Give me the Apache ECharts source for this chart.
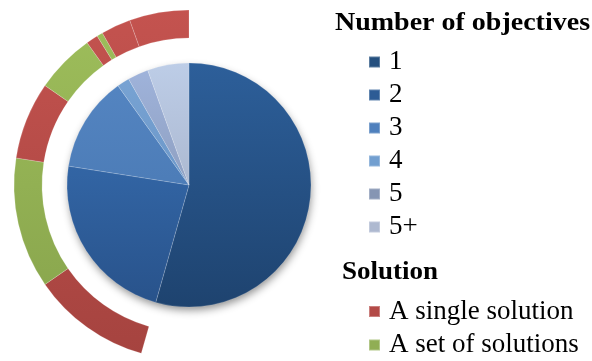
<!DOCTYPE html>
<html>
<head>
<meta charset="utf-8">
<script src="https://cdn.jsdelivr.net/npm/echarts@6/dist/echarts.min.js"></script>
<style>
  html, body { margin: 0; padding: 0; background: #fff; }
  #chart { width: 592px; height: 361px; }
</style>
</head>
<body>
<div id="chart"></div>
<script>
// Papers by number of objectives (inner pie)
const objectiveNames = ['1', '2', '3', '4', '5', '5+'];
const objectiveCounts = [99, 42, 23, 3, 5, 10];

// Solution type per group of objectives, for groups 2..5+ (outer ring)
const solutionNames = ['A single solution', 'A set of solutions'];
const ringGroups = ['2', '2', '3', '3', '4', '4', '5', '5+'];
const ringTypes = [0, 1, 0, 1, 0, 1, 0, 0];
const ringCounts = [20, 22, 13, 10, 2, 1, 5, 10];

const FONT = '"Liberation Serif", "Times New Roman", serif';
const CX = 189, CY = 185, R_PIE = 122, R_IN = 147, R_OUT = 175;

function vgrad(y0, y1, c0, c1) {
  return new echarts.graphic.LinearGradient(0, y0, 0, y1, [
    { offset: 0, color: c0 }, { offset: 1, color: c1 }
  ], true);
}

const sliceColors = [
  ['#2D5F9A', '#1E436F'],
  ['#3A73B8', '#28528A'],
  ['#5586C3', '#4473AC'],
  ['#79A4D4', '#5F8BBE'],
  ['#A0B4DC', '#7D8BA6'],
  ['#BDCDE7', '#9BA5BB']
];
const solColors = [
  ['#C4534F', '#A5433F'],
  ['#9EBE5B', '#86A24B']
];
const legendSolid = [['#25507F', '#2D5C95', '#4F80BD', '#729FD0', '#8595B3', '#AEB9D0'], ['#B34A47', '#90AE54']];

const pieData = objectiveNames.map((n, i) => ({
  name: n,
  value: objectiveCounts[i],
  itemStyle: { color: vgrad(CY - R_PIE, CY + R_PIE, sliceColors[i][0], sliceColors[i][1]) }
}));

// the ring leaves open the arc that belongs to the single-objective slice
const hiddenPart = objectiveCounts[0];
const ringData = [{
  name: '_gap', value: hiddenPart,
  itemStyle: { color: 'rgba(0,0,0,0)', borderWidth: 0 },
  emphasis: { disabled: true }, tooltip: { show: false }
}].concat(ringCounts.map((v, i) => ({
  name: solutionNames[ringTypes[i]],
  value: v,
  group: ringGroups[i],
  itemStyle: { color: vgrad(CY - R_OUT, CY + R_OUT, solColors[ringTypes[i]][0], solColors[ringTypes[i]][1]) }
})));

const chart = echarts.init(document.getElementById('chart'), null, { renderer: 'canvas' });

const legendText = { fontFamily: FONT, fontSize: 27, color: '#000', padding: [0, 0, 0, 4] };

chart.setOption({
  animation: false,
  backgroundColor: '#ffffff',
  graphic: [
    { type: 'text', x: 335, y: 11, scaleX: 1.12,
      style: { text: 'Number of objectives', font: 'bold 25px ' + FONT, fill: '#000' } },
    { type: 'text', x: 342, y: 260, scaleX: 1.08,
      style: { text: 'Solution', font: 'bold 25px ' + FONT, fill: '#000' } }
  ],
  legend: [
    {
      orient: 'vertical', left: 368, top: 48.5, padding: 0,
      itemWidth: 11, itemHeight: 11, itemGap: 6,
      icon: 'rect',
      data: objectiveNames.map((n, i) => ({ name: n, itemStyle: { color: legendSolid[0][i] } })),
      textStyle: legendText,
      selectedMode: false
    },
    {
      orient: 'vertical', left: 368, top: 298, padding: 0,
      itemWidth: 11, itemHeight: 11, itemGap: 6.5,
      icon: 'rect',
      data: solutionNames.map((n, i) => ({ name: n, itemStyle: { color: legendSolid[1][i] } })),
      textStyle: legendText,
      selectedMode: false
    }
  ],
  series: [
    {
      // soft drop shadow beneath the pie
      type: 'pie', silent: true, z: 1,
      center: [CX, CY], radius: [0, R_PIE - 1],
      label: { show: false }, labelLine: { show: false },
      data: [{ name: '_shadow', value: 1 }],
      itemStyle: { color: '#ffffff', shadowColor: 'rgba(0,0,0,0.45)', shadowBlur: 9, shadowOffsetY: 4, shadowOffsetX: 1 },
      emphasis: { disabled: true }
    },
    {
      name: 'Number of objectives', type: 'pie', z: 2,
      center: [CX, CY], radius: [0, R_PIE],
      startAngle: 90, clockwise: true,
      label: { show: false }, labelLine: { show: false },
      itemStyle: { borderColor: 'rgba(255,255,255,0.25)', borderWidth: 0.6 },
      emphasis: { scale: false },
      data: pieData
    },
    {
      name: 'Solution', type: 'pie', z: 2,
      center: [CX, CY], radius: [R_IN, R_OUT],
      startAngle: 90, clockwise: true,
      label: { show: false }, labelLine: { show: false },
      itemStyle: { borderColor: 'rgba(255,255,255,0.3)', borderWidth: 0.6 },
      emphasis: { scale: false },
      data: ringData
    }
  ]
});
</script>
</body>
</html>
